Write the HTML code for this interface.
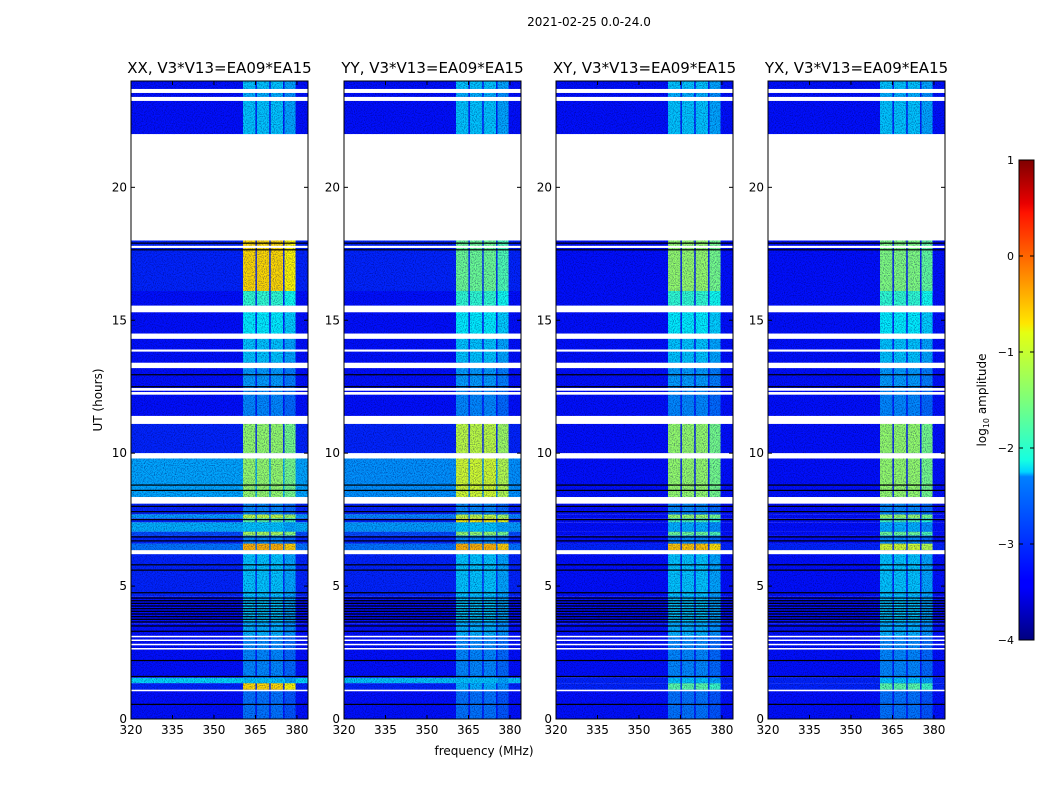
<!DOCTYPE html>
<html><head><meta charset="utf-8">
<style>
body{margin:0;background:#fff;}
svg text{font-family:"DejaVu Sans","Liberation Sans",sans-serif;fill:#000;}
</style></head>
<body>
<svg id="fig" width="1050" height="800" viewBox="0 0 1050 800" xmlns="http://www.w3.org/2000/svg">
<defs>
<filter id="speck" x="0" y="0" width="100%" height="100%">
<feTurbulence type="fractalNoise" baseFrequency="0.9" numOctaves="1" seed="3" result="n"/>
<feColorMatrix in="n" type="matrix" values="0 0 0 0 0  0 0 0 0 0  0 0 0 0 0.1  0 0 0 1.4 -0.6"/>
</filter>
<linearGradient id="jet" x1="0" y1="1" x2="0" y2="0">
<stop offset="0" stop-color="#00007f"/><stop offset="0.11" stop-color="#0000ff"/>
<stop offset="0.125" stop-color="#0000ff"/><stop offset="0.34" stop-color="#0080ff"/>
<stop offset="0.35" stop-color="#00d4ff"/><stop offset="0.375" stop-color="#16ffe1"/>
<stop offset="0.5" stop-color="#7dff7a"/><stop offset="0.64" stop-color="#e4ff13"/>
<stop offset="0.66" stop-color="#ffe600"/><stop offset="0.89" stop-color="#ff1300"/>
<stop offset="0.91" stop-color="#e80000"/><stop offset="1" stop-color="#7f0000"/>
</linearGradient>
</defs>
<text x="589" y="26" font-size="12" text-anchor="middle">2021-02-25 0.0-24.0</text>
<g id="panels"></g>
<text x="484" y="755" font-size="12" text-anchor="middle">frequency (MHz)</text>
<text transform="translate(102,400) rotate(-90)" font-size="12" text-anchor="middle">UT (hours)</text>
<g>
<rect x="1019" y="160" width="15" height="480" fill="url(#jet)" stroke="#000" stroke-width="1"/>
<g id="cbticks"></g>
<text transform="translate(986,400) rotate(-90)" font-size="12" text-anchor="middle">log<tspan font-size="8" dy="3">10</tspan><tspan dy="-3"> amplitude</tspan></text>
</g>
</svg>
<script>
// ---- data ----
const panelTitles = ["XX, V3*V13=EA09*EA15","YY, V3*V13=EA09*EA15","XY, V3*V13=EA09*EA15","YX, V3*V13=EA09*EA15"];
const xTicks = [320,335,350,365,380];
const yTicks = [0,5,10,15,20];
const cbTicks = [1,0,-1,-2,-3,-4];
// time segments (hours)
const segStart = [0,1.1,1.35,1.55,3.1,3.6,4.6,6.35,6.6,6.9,7.05,7.4,7.55,7.7,8.35,10.0,11.4,12.5,13.4,14.5,15.55,16.1,22.0,23.4,23.7];
const segEnd   = [1.1,1.35,1.55,3.1,3.6,4.6,6.35,6.6,6.9,7.05,7.4,7.55,7.7,8.35,10.0,11.4,12.5,13.4,14.5,15.55,16.1,18.0,23.4,23.7,24.0];
const baseXX = [-3.3,-3.2,-2.3,-3.3,-3.3,-3.3,-3.2,-2.8,-3.2,-3.0,-2.5,-3.2,-2.6,-3.2,-2.55,-3.2,-3.3,-3.3,-3.3,-3.3,-3.3,-3.2,-3.3,-3.3,-3.3];
const baseYY = [-3.3,-3.2,-2.4,-3.3,-3.3,-3.3,-3.2,-2.8,-3.2,-3.0,-2.6,-3.2,-2.7,-3.2,-2.65,-3.2,-3.3,-3.3,-3.3,-3.3,-3.3,-3.2,-3.3,-3.3,-3.3];
const baseXY = [-3.3,-3.2,-3.2,-3.3,-3.3,-3.3,-3.3,-3.2,-3.3,-3.3,-3.3,-3.3,-3.3,-3.3,-3.3,-3.3,-3.3,-3.3,-3.3,-3.3,-3.3,-3.3,-3.3,-3.3,-3.3];
const baseYX = baseXY.slice();
const rfiXX = [-2.8,-0.7,-2.4,-2.7,-2.5,-2.4,-2.4,-0.5,-2.7,-1.3,-2.4,-1.7,-1.2,-2.7,-1.4,-1.4,-2.7,-2.6,-2.4,-2.2,-1.9,-0.7,-2.4,-2.5,-2.4];
const rfiYY = [-2.8,-2.5,-2.4,-2.7,-2.5,-2.4,-2.4,-0.5,-2.7,-1.4,-2.4,-0.8,-1.2,-2.7,-1.1,-1.2,-2.7,-2.6,-2.4,-2.2,-1.9,-1.6,-2.4,-2.5,-2.4];
const rfiXY = [-2.8,-1.7,-2.4,-2.7,-2.5,-2.4,-2.4,-0.6,-2.7,-1.6,-2.5,-1.8,-1.4,-2.7,-1.4,-1.4,-2.7,-2.6,-2.4,-2.2,-1.9,-1.4,-2.4,-2.5,-2.4];
const rfiYX = [-2.8,-1.7,-2.4,-2.7,-2.5,-2.4,-2.4,-1.1,-2.7,-1.6,-2.5,-1.8,-1.4,-2.7,-1.4,-1.4,-2.7,-2.6,-2.4,-2.2,-1.9,-1.5,-2.4,-2.5,-2.4];
// RFI sub-columns (MHz)
const rfiLo = [360.5,365.5,370.5,375.5];
const rfiHi = [365.0,370.0,375.0,379.5];
// flagged (white) rows: start/end hours
const flagStart = [1.05,2.62,2.78,2.94,3.08,6.2,8.1,9.8,11.1,12.2,12.35,13.2,13.82,14.3,15.3,17.72,18.0,23.25,23.55];
const flagEnd   = [1.1,2.67,2.83,2.99,3.13,6.35,8.35,10.0,11.4,12.3,12.45,13.4,13.9,14.5,15.55,17.8,22.0,23.4,23.7];
// black (zero) rows
const blackH = [0.55,1.6,2.2,3.3,3.5,3.65,3.75,3.85,3.95,4.05,4.15,4.25,4.35,4.45,4.55,4.75,5.6,5.8,6.7,6.85,7.5,7.8,8.0,8.6,8.8,12.5,12.95,17.65,17.9];

const bases=[baseXX,baseYY,baseXY,baseYX], rfis=[rfiXX,rfiYY,rfiXY,rfiYX];
const lefts=[131,344,556,768], W=177, TOP=81, BOT=719;
const fx=(f,l)=>l+(f-320)*W/64;
const hy=h=>BOT-h*(BOT-TOP)/24;
function jet(v){let t=(v+4)/5;t=Math.max(0,Math.min(1,t));
 const c=x=>Math.round(255*Math.max(0,Math.min(1,1.5-Math.abs(4*t-x))));
 return `rgb(${c(3)},${c(2)},${c(1)})`;}
const NS="http://www.w3.org/2000/svg";
function mk(tag,attrs,parent){const e=document.createElementNS(NS,tag);for(const k in attrs)e.setAttribute(k,attrs[k]);parent.appendChild(e);return e;}
const G=document.getElementById('panels');
for(let p=0;p<4;p++){
 const L=lefts[p];
 const g=mk('g',{},G);
 
 
 const clip=mk('clipPath',{id:'c'+p},g);mk('rect',{x:L,y:TOP,width:W,height:BOT-TOP},clip);
 const hm=mk('g',{'clip-path':'url(#c'+p+')'},g);
 
 
 for(let i=0;i<segStart.length;i++){
  const y0=hy(segEnd[i]),y1=hy(segStart[i]);
  const r=mk('rect',{x:L,y:y0,width:W,height:y1-y0,fill:jet(bases[p][i])},hm);
  
  
  for(let k=0;k<rfiLo.length;k++){
   const c=mk('rect',{x:fx(rfiLo[k],L),y:y0,width:fx(rfiHi[k],L)-fx(rfiLo[k],L),height:y1-y0,fill:jet(rfis[p][i]-(k==3?0.15:0))},hm);
   
   
  }
 }
 const nz=mk('rect',{x:L,y:TOP,width:W,height:BOT-TOP,filter:'url(#speck)',fill:'#000'},hm);
 
 
 for(let i=0;i<flagStart.length;i++){
  const y0=hy(flagEnd[i]),y1=hy(flagStart[i]);
  const f=mk('rect',{x:L,y:y0,width:W,height:Math.max(1.5,y1-y0),fill:'#fff'},hm);
  
  
 }
 for(const h of blackH){
  const b=mk('rect',{x:L,y:hy(h)-0.6,width:W,height:1.2,fill:'#000'},hm);
  
  
 }
 const fr=mk('rect',{x:L,y:TOP,width:W,height:BOT-TOP,fill:'none',stroke:'#000','stroke-width':1},g);
 
 
 const t=mk('text',{x:L+W/2,y:73,'font-size':15,'text-anchor':'middle'},g);t.textContent=panelTitles[p];
 
 
 for(const v of xTicks){const x=fx(v,L);
  mk('line',{x1:x,x2:x,y1:BOT,y2:BOT-4,stroke:'#000'},g);mk('line',{x1:x,x2:x,y1:TOP,y2:TOP+4,stroke:'#000'},g);
  const tt=mk('text',{x:x,y:BOT+15,'font-size':12,'text-anchor':'middle'},g);tt.textContent=v;
  
  }
 for(const v of yTicks){const y=hy(v);
  mk('line',{x1:L,x2:L+4,y1:y,y2:y,stroke:'#000'},g);mk('line',{x1:L+W,x2:L+W-4,y1:y,y2:y,stroke:'#000'},g);
  const tt=mk('text',{x:L-4,y:y+4,'font-size':12,'text-anchor':'end'},g);tt.textContent=v;
  
  }
}
const CB=document.getElementById('cbticks');
for(const v of cbTicks){const y=640-(v+4)*96;
 mk('line',{x1:1019,x2:1023,y1:y,y2:y,stroke:'#000'},CB);mk('line',{x1:1030,x2:1034,y1:y,y2:y,stroke:'#000'},CB);
 const tt=mk('text',{x:1014,y:y+4,'font-size':11,'text-anchor':'end'},CB);tt.textContent=v<0?'\u2212'+(-v):v;
 
 }
</script>
</body></html>
